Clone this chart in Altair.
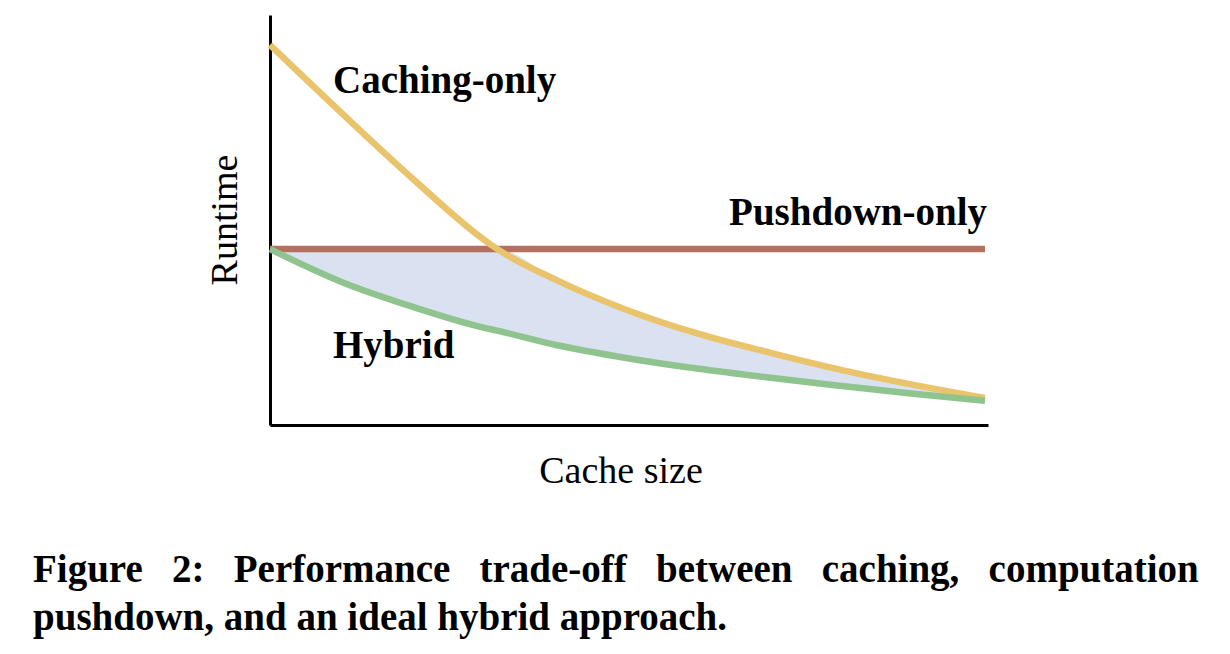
import altair as alt
import pandas as pd

# ---- data ----
cache_size = [0, 10, 20, 30, 31.8, 40, 50, 60, 70, 80, 90, 100]
caching_only = [92.7, 76.1, 60.0, 45.1, 42.9, 35.4, 28.0, 22.2, 17.6, 13.4, 9.8, 6.6]
pushdown_only = [42.9, 42.9, 42.9, 42.9, 42.9, 42.9, 42.9, 42.9, 42.9, 42.9, 42.9, 42.9]
hybrid = [42.9, 34.9, 28.8, 23.7, 23.0, 19.5, 16.3, 13.7, 11.5, 9.5, 7.6, 5.9]

series_names = ["Caching-only", "Pushdown-only", "Hybrid"]
series_colors = ["#EAC46C", "#B5705F", "#8FC48F"]

caption_line1 = ["Figure", "2:", "Performance", "trade-off", "between", "caching,", "computation"]
caption_line2 = "pushdown, and an ideal hybrid approach."

wide = pd.DataFrame({"x": cache_size, "caching": caching_only,
                     "pushdown": pushdown_only, "hybrid": hybrid})
long = pd.concat([
    pd.DataFrame({"x": cache_size, "y": caching_only, "s": series_names[0]}),
    pd.DataFrame({"x": cache_size, "y": pushdown_only, "s": series_names[1]}),
    pd.DataFrame({"x": cache_size, "y": hybrid, "s": series_names[2]}),
])

xs = alt.Scale(domain=[0, 100.42], nice=False, zero=False)
ys = alt.Scale(domain=[0, 100], nice=False, zero=False)
x_axis = alt.Axis(labels=False, ticks=False, grid=False, title=None,
                  domainColor="black", domainWidth=3)
y_axis = alt.Axis(labels=False, ticks=False, grid=False, title=None,
                  domainColor="black", domainWidth=3)

area = alt.Chart(wide).transform_calculate(
    upper="min(datum.caching, datum.pushdown)"
).mark_area(color="#DAE1F0", interpolate="monotone").encode(
    x=alt.X("x:Q", scale=xs, axis=x_axis),
    y=alt.Y("hybrid:Q", scale=ys, axis=y_axis),
    y2="upper:Q",
)

order_draw = ["Pushdown-only", "Caching-only", "Hybrid"]
lines_layers = [
    alt.Chart(long).transform_filter(alt.datum.s == name).mark_line(
        strokeWidth=6.5, interpolate="monotone",
        color=series_colors[series_names.index(name)]
    ).encode(x=alt.X("x:Q", scale=xs), y=alt.Y("y:Q", scale=ys))
    for name in order_draw
]

def label(txt, x, y, size=39, weight="bold", align="left", angle=0, baseline="alphabetic"):
    kw = dict(font="Liberation Serif", fontSize=size, fontWeight=weight,
              align=align, baseline=baseline, color="black")
    if angle:
        kw["angle"] = angle
    return alt.Chart(pd.DataFrame({"t": [txt]})).mark_text(**kw).encode(
        text="t:N", x=alt.value(x), y=alt.value(y))

nb = "\u00a0" * 3
labels = [
    label("Caching-only", 63, 78),
    label("Pushdown-only", 717, 210, align="right"),
    label("Hybrid", 63, 343),
    label("Runtime", -33, 205, size=38, weight="normal", align="center", angle=270),
    label("Cache size", 351, 468, size=38, weight="normal", align="center"),
    label(nb.join(caption_line1), -237, 567, size=39),
    label(caption_line2, -237, 615, size=39),
]

chart = alt.layer(area, *lines_layers, *labels).properties(
    width=718, height=410,
    padding={"left": 270, "top": 15, "right": 242, "bottom": 229},
    autosize=alt.AutoSizeParams(type="none"),
).configure_view(stroke=None)

chart.save("out.html", embed_options={"renderer": "svg", "actions": False})
